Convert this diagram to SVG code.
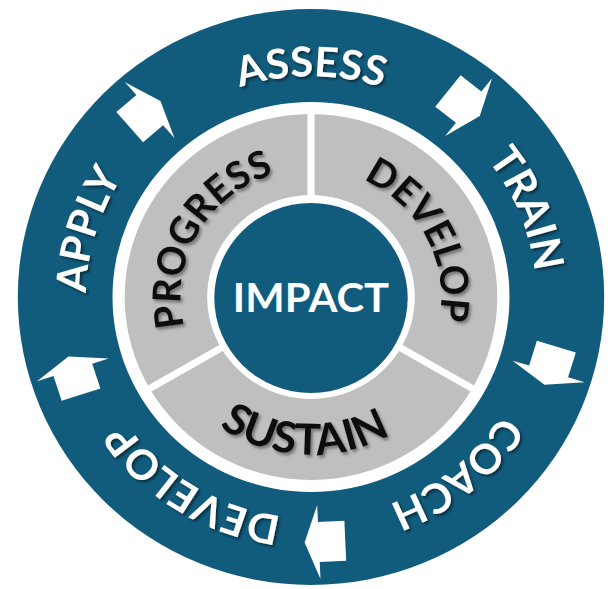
<svg xmlns="http://www.w3.org/2000/svg" width="610" height="589" viewBox="0 0 610 589">
  <style>
    .blue { fill: #115c7d; }
    .seg { fill: #bfbfbf; }
    .div { stroke: #ffffff; stroke-width: 7; }
    .arrow { fill: #ffffff; }
    .outer { font-family: Lato, "Open Sans", "DejaVu Sans", sans-serif; font-weight: bold; font-size: 41px; fill: #ffffff; filter: url(#shadowDark); }
    .inner { font-family: Lato, "Open Sans", "DejaVu Sans", sans-serif; font-weight: bold; font-size: 38px; fill: #111111; filter: url(#shadowSoft); }
    .hub { font-family: Lato, "Open Sans", "DejaVu Sans", sans-serif; font-weight: bold; font-size: 41px; fill: #ffffff; }
  </style>
  <defs>
    <filter id="shadowDark" x="-10%" y="-20%" width="130%" height="150%">
      <feDropShadow dx="2" dy="2" stdDeviation="1.5" flood-color="#000000" flood-opacity="0.5"/>
    </filter>
    <filter id="shadowSoft" x="-10%" y="-20%" width="130%" height="150%">
      <feDropShadow dx="2" dy="2.5" stdDeviation="1.8" flood-color="#000000" flood-opacity="0.4"/>
    </filter>
    <!-- text baselines: outer band (clockwise, tops outward) -->
    <path id="pAssess" d="M -217.6 -38.4 A 221 221 0 0 1 217.6 -38.4"/>
    <path id="pTrain" d="M -47.8 -215.8 A 221 221 0 0 1 118.7 186.4"/>
    <path id="pCoach" d="M 193.3 -107.1 A 221 221 0 0 1 -145.0 166.8"/>
    <path id="pDevelopOut" d="M 163.6 148.6 A 221 221 0 0 1 -206.5 -78.8"/>
    <path id="pApply" d="M -100.3 196.9 A 221 221 0 0 1 27.0 -219.3"/>
    <!-- text baselines: grey ring -->
    <path id="pProgress" d="M -82.3 98.0 A 128 128 0 0 1 43.8 -120.3"/>
    <path id="pDevelopIn" d="M -39.6 -121.7 A 128 128 0 0 1 78.8 100.9"/>
    <path id="pSustain" d="M -156.0 24.7 A 158 158 0 0 0 155.1 30.1"/>
    <path id="arrowShape" d="M 17 0 L 3 -37 L 3 -20 L -23 -20 L -23 20 L 3 20 L 3 37 Z"/>
  </defs>

  <g transform="translate(311 297) scale(1.018 1)">
    <!-- outer band and white separation disk -->
    <g id="ring">
      <circle class="blue" cx="0" cy="0" r="288"/>
      <circle fill="#ffffff" cx="0" cy="0" r="195"/>
    </g>

    <g id="node-progress">
      <path class="seg" d="M -158.5 91.5 A 183 183 0 0 1 0 -183 L 0 -102 A 102 102 0 0 0 -88.3 51 Z"/>
      <text class="inner"><textPath href="#pProgress" startOffset="50%" text-anchor="middle">PROGRESS</textPath></text>
    </g>
    <g id="node-develop">
      <path class="seg" d="M 0 -183 A 183 183 0 0 1 158.5 91.5 L 88.3 51 A 102 102 0 0 0 0 -102 Z"/>
      <text class="inner"><textPath href="#pDevelopIn" startOffset="50%" text-anchor="middle">DEVELOP</textPath></text>
    </g>
    <g id="node-sustain">
      <path class="seg" d="M 158.5 91.5 A 183 183 0 0 1 -158.5 91.5 L -88.3 51 A 102 102 0 0 0 88.3 51 Z"/>
      <text class="inner" style="font-size:43px"><textPath href="#pSustain" startOffset="49%" text-anchor="middle">SUSTAIN</textPath></text>
    </g>

    <g id="dividers">
      <line class="div" x1="0" y1="-100" x2="0" y2="-186"/>
      <line class="div" x1="86.6" y1="50" x2="161.1" y2="93"/>
      <line class="div" x1="-86.6" y1="50" x2="-161.1" y2="93"/>
    </g>

    <g id="node-impact">
      <circle class="blue" cx="0" cy="1" r="95"/>
      <text class="hub" x="0" y="15" text-anchor="middle">IMPACT</text>
    </g>

    <g id="node-assess">
      <text class="outer"><textPath href="#pAssess" startOffset="50%" text-anchor="middle">ASSESS</textPath></text>
    </g>
    <g id="node-train">
      <text class="outer"><textPath href="#pTrain" startOffset="50%" text-anchor="middle">TRAIN</textPath></text>
    </g>
    <g id="node-coach">
      <text class="outer"><textPath href="#pCoach" startOffset="50%" text-anchor="middle">COACH</textPath></text>
    </g>
    <g id="node-develop-outer">
      <text class="outer"><textPath href="#pDevelopOut" startOffset="50%" text-anchor="middle">DEVELOP</textPath></text>
    </g>
    <g id="node-apply">
      <text class="outer"><textPath href="#pApply" startOffset="50%" text-anchor="middle">APPLY</textPath></text>
    </g>

    <!-- clockwise flow arrows -->
    <g id="connectors">
      <use href="#arrowShape" class="arrow" transform="translate(-160.7 -184.9) rotate(-41)"/>
      <use href="#arrowShape" class="arrow" transform="translate(152.5 -191.7) rotate(38.5)"/>
      <use href="#arrowShape" class="arrow" transform="translate(234.3 71.6) rotate(107)"/>
      <use href="#arrowShape" class="arrow" transform="translate(10.7 244.8) rotate(177.5)"/>
      <use href="#arrowShape" class="arrow" transform="translate(-233.0 75.7) rotate(252)"/>
    </g>
  </g>
</svg>
